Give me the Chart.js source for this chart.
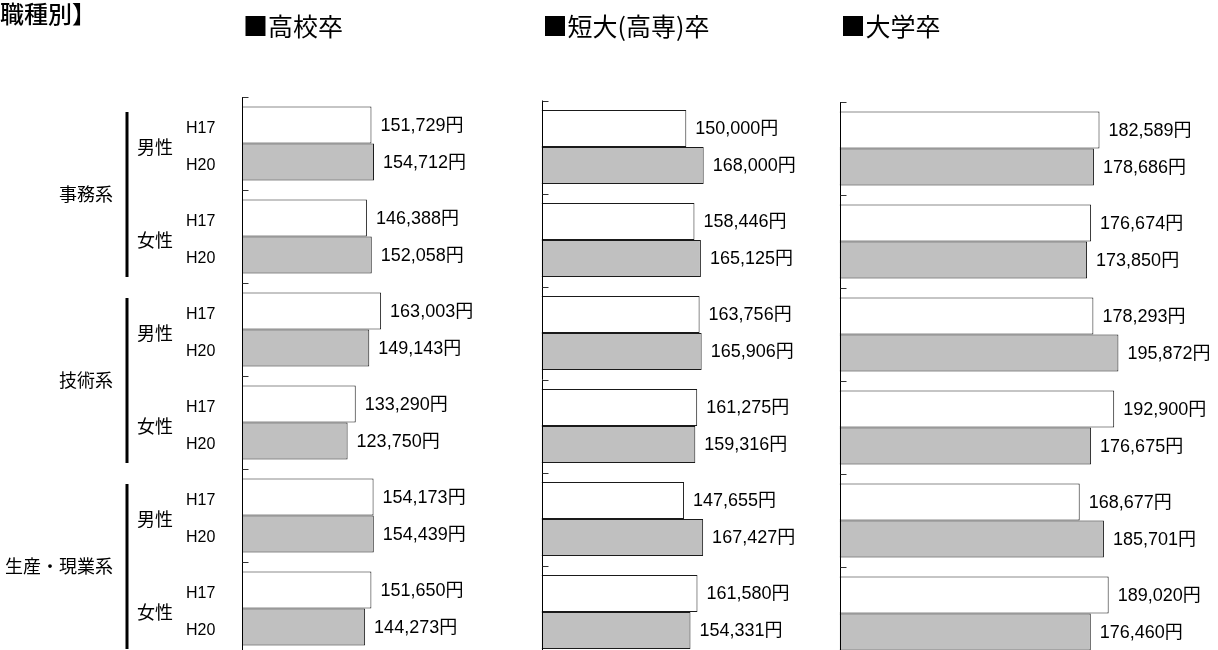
<!DOCTYPE html>
<html><head><meta charset="utf-8">
<script src="https://cdn.jsdelivr.net/npm/chart.js@4"></script>
<style>
html,body{margin:0;padding:0;background:#fff;width:1218px;height:650px;overflow:hidden;position:relative}
canvas{position:absolute;top:0}
</style></head><body>
<canvas id="c1" width="520" height="700" style="left:0px"></canvas>
<canvas id="c2" width="330" height="700" style="left:520px"></canvas>
<canvas id="c3" width="388" height="700" style="left:830px"></canvas>
<script>
// ---- data ----
const pageTitle = '職種別】';
const panelTitles = ['■高校卒', '■短大(高専)卒', '■大学卒'];
const groups = ['事務系', '技術系', '生産・現業系'];
const sexes = ['男性', '女性'];
const years = ['H17', 'H20'];
const categories = ['事務系 男性', '事務系 女性', '技術系 男性', '技術系 女性', '生産・現業系 男性', '生産・現業系 女性'];
const highH17 = [151729, 146388, 163003, 133290, 154173, 151650];
const highH20 = [154712, 152058, 149143, 123750, 154439, 144273];
const juniorH17 = [150000, 158446, 163756, 161275, 147655, 161580];
const juniorH20 = [168000, 165125, 165906, 159316, 167427, 154331];
const univH17 = [182589, 176674, 178293, 192900, 168677, 189020];
const univH20 = [178686, 173850, 195872, 176675, 185701, 176460];
const unit = '円';

const CJK = '"Noto Sans CJK JP", "Noto Sans CJK SC", sans-serif';
const LAT = '"Liberation Sans", "Noto Sans CJK JP", sans-serif';

const axisPlugin = {
  id: 'axisTicks',
  afterDatasetsDraw(chart) {
    const ctx = chart.ctx, a = chart.chartArea, ys = chart.scales.y;
    const step = ys.getPixelForValue(1) - ys.getPixelForValue(0);
    ctx.save();
    ctx.strokeStyle = '#000';
    ctx.lineWidth = 1;
    const x = Math.round(a.left) + 0.5;
    ctx.beginPath();
    ctx.moveTo(x, a.top);
    ctx.lineTo(x, a.bottom);
    ctx.stroke();
    ctx.strokeStyle = '#333';
    for (let i = 0; i <= categories.length; i++) {
      const y = Math.round(ys.getPixelForValue(0) - step / 2 + i * step) + 0.5;
      ctx.beginPath();
      ctx.moveTo(x, y);
      ctx.lineTo(x + 6, y);
      ctx.stroke();
    }
    ctx.restore();
  }
};

const valueLabelPlugin = {
  id: 'valueLabels',
  afterDatasetsDraw(chart) {
    const ctx = chart.ctx;
    ctx.save();
    ctx.font = '18px ' + LAT;
    ctx.fillStyle = '#000';
    ctx.textAlign = 'left';
    ctx.textBaseline = 'middle';
    chart.data.datasets.forEach((ds, di) => {
      chart.getDatasetMeta(di).data.forEach((bar, i) => {
        ctx.fillText(ds.data[i].toLocaleString('en-US') + unit, bar.x + 9, bar.y + 1);
      });
    });
    ctx.restore();
  }
};

const titlePlugin = {
  id: 'panelTitle',
  afterDraw(chart) {
    const ctx = chart.ctx, a = chart.chartArea;
    const t = chart.options.plugins.panelTitle;
    ctx.save();
    ctx.font = '25px ' + CJK;
    ctx.fillStyle = '#000';
    ctx.textAlign = 'left';
    ctx.textBaseline = 'middle';
    ctx.fillText(t.text, a.left + 1, 26);
    ctx.restore();
  }
};

const leftLabelPlugin = {
  id: 'leftLabels',
  afterDraw(chart) {
    const ctx = chart.ctx, ys = chart.scales.y;
    const step = ys.getPixelForValue(1) - ys.getPixelForValue(0);
    const dy = 4;
    ctx.save();
    ctx.fillStyle = '#000';
    ctx.textBaseline = 'middle';
    // page title
    ctx.font = '500 24px ' + CJK;
    ctx.textAlign = 'left';
    ctx.fillText(pageTitle, 0, 14);
    // years
    ctx.font = '16px ' + LAT;
    years.forEach((yr, di) => {
      chart.getDatasetMeta(di).data.forEach(bar => {
        ctx.fillText(yr, 186, bar.y + dy);
      });
    });
    // sexes
    ctx.font = '18px ' + CJK;
    categories.forEach((c, i) => {
      ctx.fillText(sexes[i % 2], 137, ys.getPixelForValue(i) + dy);
    });
    // groups
    ctx.textAlign = 'right';
    groups.forEach((g, gi) => {
      const top = ys.getPixelForValue(gi * 2) - step / 2;
      const bottom = ys.getPixelForValue(gi * 2 + 1) + step / 2;
      ctx.fillText(g, 113, (top + bottom) / 2 + dy);
      ctx.fillRect(125.5, top + 15, 3, bottom - top - 21);
    });
    ctx.restore();
  }
};

function makePanel(id, title, d17, d20, maxVal, pad, extraPlugins) {
  return new Chart(document.getElementById(id), {
    type: 'bar',
    data: {
      labels: categories,
      datasets: [
        { label: years[0], data: d17, backgroundColor: '#ffffff', borderColor: '#1a1a1a', borderWidth: 1, borderSkipped: 'start' },
        { label: years[1], data: d20, backgroundColor: '#c0c0c0', borderColor: '#1a1a1a', borderWidth: 1, borderSkipped: 'start' }
      ]
    },
    options: {
      indexAxis: 'y',
      responsive: false,
      animation: false,
      events: [],
      layout: { padding: pad },
      datasets: { bar: { categoryPercentage: 74 / 93, barPercentage: 1 } },
      scales: {
        x: { display: false, min: 0, max: maxVal },
        y: { display: false }
      },
      plugins: {
        legend: { display: false },
        tooltip: { enabled: false },
        panelTitle: { text: title }
      }
    },
    plugins: [axisPlugin, valueLabelPlugin, titlePlugin].concat(extraPlugins || [])
  });
}

// chart areas: panel1 x 242..498 (300000), panel2 541.5..831 (300000), panel3 839.5..1195.5 (250000)
makePanel('c1', panelTitles[0], highH17, highH20, 300000, { left: 242, right: 22, top: 97, bottom: 45 }, [leftLabelPlugin]);
makePanel('c2', panelTitles[1], juniorH17, juniorH20, 300000, { left: 21.5, right: 18.9, top: 100.5, bottom: 41.5 });
makePanel('c3', panelTitles[2], univH17, univH20, 250000, { left: 9.5, right: 22.5, top: 102, bottom: 40 });
</script>
</body></html>
